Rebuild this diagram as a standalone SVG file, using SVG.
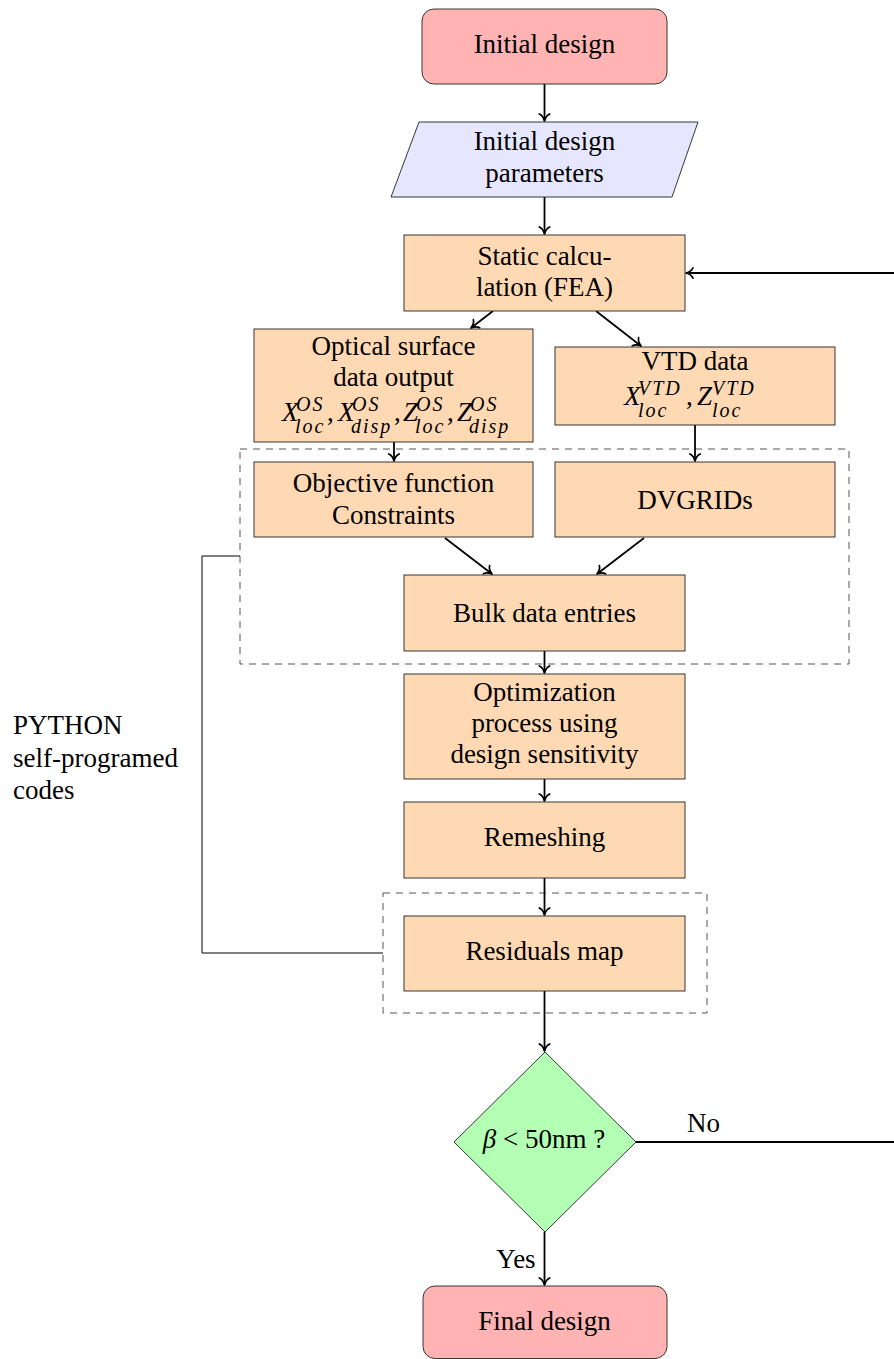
<svg xmlns="http://www.w3.org/2000/svg" width="894" height="1359" viewBox="0 0 894 1359">
<defs>
<marker id="ah" markerUnits="userSpaceOnUse" viewBox="-10 -8 12 16" refX="0" refY="0" markerWidth="12" markerHeight="16" orient="auto">
<path d="M-7,-5.2 C-5.8,-2.3 -2.2,-0.6 0,0 C-2.2,0.6 -5.8,2.3 -7,5.2" fill="none" stroke="#000" stroke-width="1.7" stroke-linecap="round" stroke-linejoin="round"/>
</marker>
<style>
.box{fill:#ffd9b3;stroke:#222;stroke-width:0.9}
.term{fill:#ffb3b3;stroke:#222;stroke-width:0.9}
.io{fill:#e6e6ff;stroke:#222;stroke-width:0.9}
.dec{fill:#b3ffb3;stroke:#222;stroke-width:0.9}
.t{font-family:"Liberation Serif","Times New Roman",serif;font-size:27px;text-anchor:middle;fill:#000}
.l{font-family:"Liberation Serif","Times New Roman",serif;font-size:27px;fill:#000}
.m{font-family:"Liberation Serif","Times New Roman",serif;font-size:27px;font-style:italic;fill:#000}
.s{font-size:20px;letter-spacing:2px}
.n{font-style:normal}
.arrow{fill:none;stroke:#000;stroke-width:1.8;marker-end:url(#ah)}
.dash{fill:none;stroke:#555;stroke-width:1;stroke-dasharray:7 6}
.line{fill:none;stroke:#000;stroke-width:1}
</style>
</defs>

<g id="groups">
<rect class="dash" x="240" y="449" width="609" height="215"/>
<rect class="dash" x="383" y="893" width="324" height="120"/>
<polyline class="line" points="240,556 202,556 202,953 383,953"/>
</g>

<g id="connectors">
<line class="arrow" x1="544.5" y1="84" x2="544.5" y2="121"/>
<line class="arrow" x1="544.5" y1="197" x2="544.5" y2="234"/>
<line class="arrow" x1="493" y1="311" x2="471" y2="328"/>
<line class="arrow" x1="596" y1="311" x2="641" y2="346"/>
<line class="arrow" x1="394" y1="442" x2="394" y2="461"/>
<line class="arrow" x1="695" y1="425" x2="695" y2="461"/>
<line class="arrow" x1="445" y1="538" x2="492" y2="574"/>
<line class="arrow" x1="644" y1="538" x2="597" y2="574"/>
<line class="arrow" x1="544.5" y1="651" x2="544.5" y2="673"/>
<line class="arrow" x1="544.5" y1="779" x2="544.5" y2="801"/>
<line class="arrow" x1="544.5" y1="878" x2="544.5" y2="915"/>
<line class="arrow" x1="544.5" y1="991" x2="544.5" y2="1051"/>
<line class="arrow" x1="544.5" y1="1232" x2="544.5" y2="1285"/>
<path class="arrow" d="M636,1142 H910 V273 H686"/>
<text class="l" x="687" y="1132">No</text>
<text class="t" x="516" y="1268">Yes</text>
</g>

<g id="python-label">
<text class="l" x="13" y="734">PYTHON</text>
<text class="l" x="13" y="766.5">self-programed</text>
<text class="l" x="13" y="798.5">codes</text>
</g>

<g id="initial">
<rect class="term" x="422" y="9" width="245" height="75" rx="12"/>
<text class="t" x="544.5" y="52.5">Initial design</text>
</g>

<g id="params">
<polygon class="io" points="419,122 698,122 672,197 391,197"/>
<text class="t" x="544.5" y="150">Initial design</text>
<text class="t" x="544.5" y="182">parameters</text>
</g>

<g id="static">
<rect class="box" x="404" y="235" width="281" height="76"/>
<text class="t" x="544.5" y="264.5">Static calcu-</text>
<text class="t" x="544.5" y="296">lation (FEA)</text>
</g>

<g id="optical">
<rect class="box" x="254" y="329" width="279" height="113"/>
<text class="t" x="393.5" y="355">Optical surface</text>
<text class="t" x="393.5" y="386">data output</text>
<text class="m"><tspan x="282" y="421">X</tspan><tspan class="s" x="296" y="410.5">OS</tspan><tspan class="s" x="295" y="433">loc</tspan><tspan class="n" x="327" y="421">,</tspan><tspan x="338" y="421">X</tspan><tspan class="s" x="352" y="410.5">OS</tspan><tspan class="s" x="351" y="433">disp</tspan><tspan class="n" x="394" y="421">,</tspan><tspan x="403" y="421">Z</tspan><tspan class="s" x="416" y="410.5">OS</tspan><tspan class="s" x="415" y="433">loc</tspan><tspan class="n" x="447" y="421">,</tspan><tspan x="457" y="421">Z</tspan><tspan class="s" x="470" y="410.5">OS</tspan><tspan class="s" x="469" y="433" letter-spacing="3">disp</tspan></text>
</g>

<g id="vtd">
<rect class="box" x="555" y="347" width="280" height="78"/>
<text class="t" x="695" y="370">VTD data</text>
<text class="m"><tspan x="624" y="405">X</tspan><tspan class="s" x="638" y="394.5">VTD</tspan><tspan class="s" x="638" y="417">loc</tspan><tspan class="n" x="686" y="405">,</tspan><tspan x="697" y="405">Z</tspan><tspan class="s" x="712" y="394.5">VTD</tspan><tspan class="s" x="712" y="417">loc</tspan></text>
</g>

<g id="objective">
<rect class="box" x="254" y="462" width="279" height="75"/>
<text class="t" x="393.5" y="492">Objective function</text>
<text class="t" x="393.5" y="524">Constraints</text>
</g>

<g id="dvgrids">
<rect class="box" x="555" y="462" width="280" height="75"/>
<text class="t" x="695" y="508.5">DVGRIDs</text>
</g>

<g id="bulk">
<rect class="box" x="404" y="575" width="281" height="76"/>
<text class="t" x="544.5" y="621.5">Bulk data entries</text>
</g>

<g id="optimization">
<rect class="box" x="404" y="674" width="281" height="105"/>
<text class="t" x="544.5" y="700.5">Optimization</text>
<text class="t" x="544.5" y="732">process using</text>
<text class="t" x="544.5" y="763">design sensitivity</text>
</g>

<g id="remeshing">
<rect class="box" x="404" y="802" width="281" height="76"/>
<text class="t" x="544.5" y="846">Remeshing</text>
</g>

<g id="residuals">
<rect class="box" x="404" y="916" width="281" height="75"/>
<text class="t" x="544.5" y="959.5">Residuals map</text>
</g>

<g id="decision">
<polygon class="dec" points="545,1052 636,1142 545,1232 454,1142"/>
<text class="t" x="544" y="1148"><tspan font-style="italic">β</tspan> &lt; 50nm ?</text>
</g>

<g id="final">
<rect class="term" x="423" y="1286" width="244" height="72.5" rx="12"/>
<text class="t" x="544.5" y="1330">Final design</text>
</g>
</svg>
